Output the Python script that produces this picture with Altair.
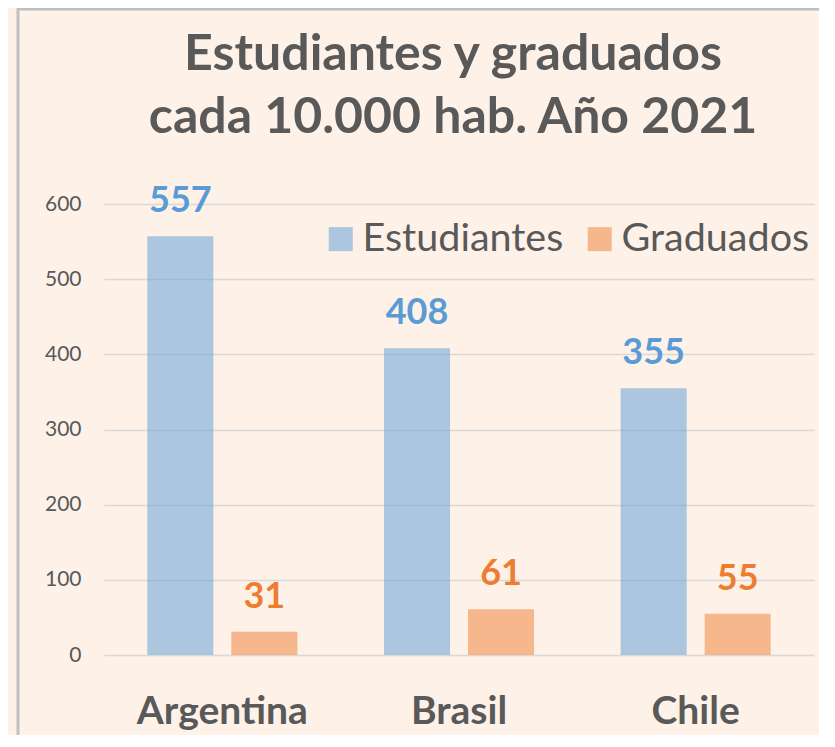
import altair as alt
import pandas as pd

paises = ["Argentina", "Brasil", "Chile"]
series = ["Estudiantes", "Graduados"]
estudiantes = [557, 408, 355]
graduados = [31, 61, 55]
y_ticks = [0, 100, 200, 300, 400, 500, 600]
titulo = ["Estudiantes y graduados", "cada 10.000 hab. Año 2021"]

rows = []
for p, e, g in zip(paises, estudiantes, graduados):
    rows.append({"pais": p, "serie": series[0], "valor": e})
    rows.append({"pais": p, "serie": series[1], "valor": g})
df = pd.DataFrame(rows)

FONT = "Lato"
GRAY = "#595959"
colors = ["#5B9BD5", "#ED7D31"]

base = alt.Chart(df).encode(
    x=alt.X("pais:N", sort=paises,
            scale=alt.Scale(paddingInner=0.366, paddingOuter=0.183),
            axis=alt.Axis(title=None, labelAngle=0, labelFont=FONT, labelFontSize=39,
                          labelFontWeight="bold", labelColor=GRAY, domain=False, ticks=False,
                          labelBaseline="alphabetic", labelPadding=68, grid=False)),
    xOffset=alt.XOffset("serie:N", sort=series, scale=alt.Scale(paddingInner=0.214)),
    y=alt.Y("valor:Q", scale=alt.Scale(domain=[0, 600]),
            axis=alt.Axis(title=None, values=y_ticks, grid=True, gridColor="#D9D9D9",
                          gridWidth=1.5, domain=False, ticks=False, labelFont=FONT,
                          labelFontSize=21, labelColor=GRAY, labelPadding=23)),
)

bars = base.mark_bar(opacity=0.5).encode(
    color=alt.Color("serie:N", sort=series,
                    scale=alt.Scale(domain=series, range=colors),
                    legend=alt.Legend(title=None, orient="none", direction="horizontal",
                                      legendX=217, legendY=15, symbolType="square",
                                      symbolSize=576, symbolOpacity=0.5, symbolStrokeWidth=0,
                                      labelFont=FONT, labelFontSize=39.5, labelColor=GRAY,
                                      labelOffset=2, columnPadding=16, padding=0,
                                      labelLimit=400))
)

labels = base.mark_text(font=FONT, fontSize=36, fontWeight="bold", baseline="alphabetic",
                        dy=-24).encode(
    text="valor:Q",
    color=alt.Color("serie:N", scale=alt.Scale(domain=series, range=colors), legend=None),
)

one = alt.Chart(pd.DataFrame({"a": [0]}))
border_left = one.mark_rule(color="#BFBFBF", strokeWidth=3).encode(
    x=alt.value(-86), y=alt.value(-196), y2=alt.value(700))
border_top = one.mark_rule(color="#BFBFBF", strokeWidth=3).encode(
    x=alt.value(-87), x2=alt.value(900), y=alt.value(-195))

chart = alt.layer(bars, labels, border_left, border_top).resolve_scale(
    color="independent"
).properties(
    width=710, height=451,
    title=alt.TitleParams(text=titulo, font=FONT, fontSize=50, fontWeight="bold",
                          color=GRAY, anchor="middle", lineHeight=63, offset=-136, dx=-6),
    autosize=alt.AutoSizeParams(type="none"),
    padding={"left": 96, "top": 196, "right": 5, "bottom": 80},
).configure(background="#FEF1E8").configure_view(stroke=None)

chart.save("out.html", embed_options={"renderer": "svg", "actions": False})
